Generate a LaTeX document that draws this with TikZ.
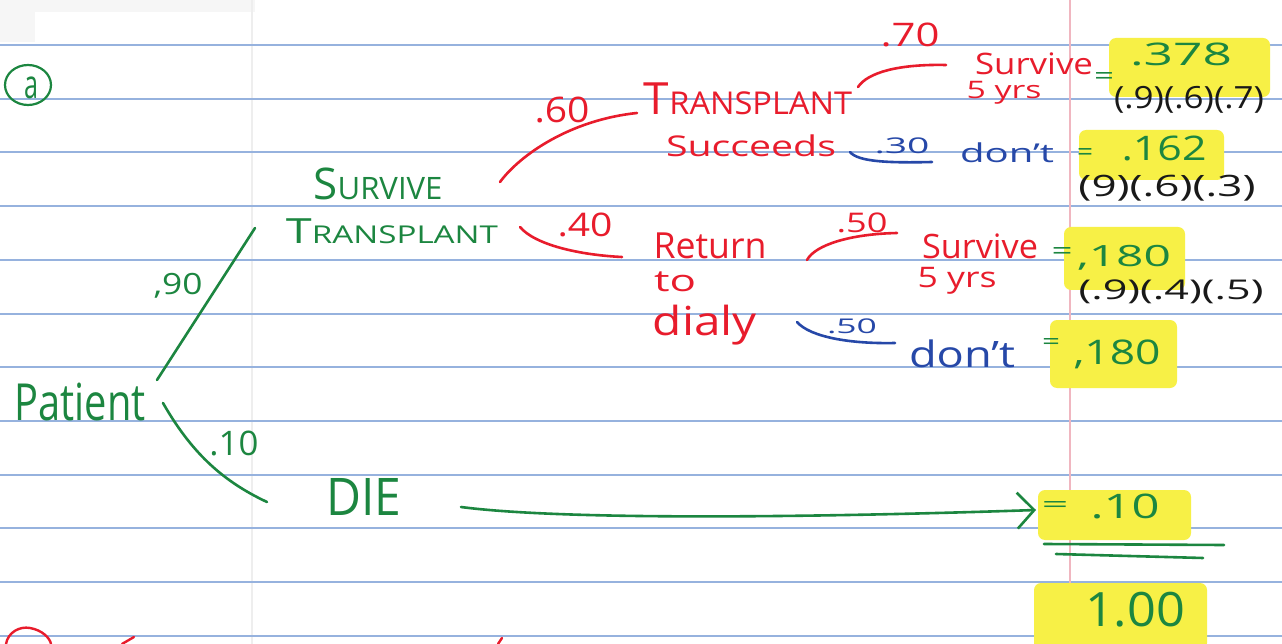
\documentclass[tikz,border=0pt]{standalone}
\usepackage{fontspec}
\setmainfont{Open Sans}
\usepackage{graphicx}
\usetikzlibrary{arrows.meta}
\definecolor{inkG}{RGB}{28,134,64}
\definecolor{inkR}{RGB}{232,28,44}
\definecolor{inkB}{RGB}{38,72,168}
\definecolor{inkK}{RGB}{25,25,25}
\definecolor{ruleC}{RGB}{150,178,222}
\definecolor{hlC}{RGB}{247,240,70}
\definecolor{marginC}{RGB}{240,182,192}
\definecolor{faintC}{RGB}{238,238,238}
\definecolor{paperG}{RGB}{246,246,246}
\newcommand\hw[3]{\resizebox*{#1pt}{#2pt}{#3}}
\newcommand\bigfirst[2]{{\fontsize{12}{12}\selectfont #1}{\fontsize{8.5}{9}\selectfont #2}}
\tikzset{
  txt/.style={inner sep=0pt, outer sep=2pt},
  gtxt/.style={txt, text=inkG},
  rtxt/.style={txt, text=inkR},
  btxt/.style={txt, text=inkB},
  ktxt/.style={txt, text=inkK},
  pen/.style={line width=2.6pt, line cap=round, line join=round},
  gpen/.style={pen, draw=inkG},
  rpen/.style={pen, draw=inkR},
  bpen/.style={pen, draw=inkB},
  rulestroke/.style={draw=ruleC, line width=2pt},
  hl/.style={fill=hlC, rounded corners=7pt},
}
\begin{document}
\begin{tikzpicture}[x=1pt,y=-1pt]
\useasboundingbox (0,0) rectangle (1282,644);
\fill[white] (0,0) rectangle (1282,644);
\fill[paperG] (0,0) rectangle (255,12);
\fill[paperG] (0,0) rectangle (35,42);
% paper
\draw[faintC, line width=1.2pt] (252,0) -- (252,644);
\foreach \k in {0,...,11} {
  \draw[rulestroke] (0,{45+53.7*\k}) -- (1282,{45+53.7*\k});
}
\draw[marginC, line width=1.3pt] (1070,0) -- (1070,644);
% highlights
\fill[hl] (1109,38) rectangle (1270,97);
\fill[hl] (1079,130) rectangle (1224,180);
\fill[hl] (1064,227) rectangle (1185,290);
\fill[hl] (1050,320) rectangle (1177,388);
\fill[hl] (1038,490) rectangle (1191,540);
\fill[hl] (1034,583) rectangle (1207,650);

% label (a)
\draw[inkG, line width=2.2pt] (28,85) ellipse [x radius=23pt, y radius=20pt];
\node[gtxt] (qa) at (31,88) {\hw{14}{22}{a}};

% green level
\node[gtxt] (patient) at (80,402) {\hw{131}{38}{Patient}};
\node[gtxt] (survive) at (378,184) {\hw{129}{32}{\bigfirst{S}{URVIVE}}};
\node[gtxt] (transplant) at (392,231) {\hw{212}{25}{\bigfirst{T}{RANSPLANT}}};
\node[gtxt] (die) at (364,497) {\hw{75}{37}{DIE}};
\node[gtxt] (l90) at (178,286) {\hw{49}{25}{,90}};
\node[gtxt] (l10) at (234,443) {\hw{49}{25}{.10}};

% red level
\node[rtxt] (l60) at (562,110) {\hw{55}{26}{.60}};
\node[rtxt] (l40) at (585,225) {\hw{55}{24}{.40}};
\node[rtxt] (transR) at (748,99) {\hw{208}{32}{\bigfirst{T}{RANSPLANT}}};
\node[rtxt] (succ) at (751,146) {\hw{170}{22}{Succeeds}};
\node[rtxt] (l70) at (910,35) {\hw{59}{24}{.70}};
\node[rtxt] (surv1) at (1034,64) {\hw{118}{22}{Survive}};
\node[rtxt] (yrs1) at (1004,93) {\hw{75}{23}{5 yrs}};
\node[rtxt] (ret) at (710,246) {\hw{113}{26}{Return}};
\node[rtxt] (to) at (675,282) {\hw{42}{20}{to}};
\node[rtxt] (dialy) at (705,325) {\hw{104}{40}{dialy}};
\node[rtxt] (l50r) at (862,223) {\hw{51}{20}{.50}};
\node[rtxt] (surv2) at (980,246) {\hw{116}{25}{Survive}};
\node[rtxt] (yrs2) at (957,281) {\hw{79}{27}{5 yrs}};

% blue
\node[btxt] (l30) at (902,146) {\hw{55}{16}{.30}};
\node[btxt] (dont1) at (1007,153) {\hw{94}{20}{don't}};
\node[btxt] (l50b) at (852,326) {\hw{50}{15}{.50}};
\node[btxt] (dont2) at (962,354) {\hw{106}{28}{don't}};

% results
\node[gtxt] (eq1) at (1104,79) {\hw{20}{12}{=}};
\node[gtxt] (v378) at (1181,54) {\hw{102}{23}{.378}};
\node[ktxt] (calc1) at (1189,100) {\hw{150}{27}{(.9)(.6)(.7)}};
\node[gtxt] (eq2) at (1085,155) {\hw{16}{12}{=}};
\node[gtxt] (v162) at (1164,148) {\hw{85}{25}{.162}};
\node[ktxt] (calc2) at (1167,188) {\hw{177}{26}{(9)(.6)(.3)}};
\node[gtxt] (eq3) at (1062,254) {\hw{21}{12}{=}};
\node[gtxt] (v180a) at (1124,258) {\hw{94}{25}{,180}};
\node[ktxt] (calc3) at (1171,292) {\hw{185}{24}{(.9)(.4)(.5)}};
\node[gtxt] (eq4) at (1051,344) {\hw{18}{11}{=}};
\node[gtxt] (v180b) at (1117,354) {\hw{87}{29}{,180}};
\node[gtxt] (eq5) at (1055,507) {\hw{27}{11}{=}};
\node[gtxt] (v10) at (1125,506) {\hw{69}{25}{.10}};
\node[gtxt] (v100) at (1135,610) {\hw{100}{35}{1.00}};

% connectors
\coordinate (p90a) at (157,380); \coordinate (p90b) at (255,228);
\draw[gpen] (p90a) -- (p90b);
\coordinate (p10a) at (163,403); \coordinate (p10b) at (267,502);
\draw[gpen] (p10a) .. controls (190,450) and (220,480) .. (p10b);
\coordinate (s60a) at (500,182); \coordinate (s60b) at (637,113);
\draw[rpen] (s60a) .. controls (520,155) and (570,120) .. (s60b);
\coordinate (s40a) at (520,227); \coordinate (s40b) at (622,257);
\draw[rpen] (s40a) .. controls (535,245) and (580,255) .. (s40b);
\coordinate (t70a) at (858,87); \coordinate (t70b) at (946,65);
\draw[rpen] (t70a) .. controls (868,72) and (900,64) .. (t70b);
\coordinate (t30a) at (850,152); \coordinate (t30b) at (932,162);
\draw[bpen] (t30a) .. controls (858,162) and (890,163) .. (t30b);
\coordinate (r50a) at (807,260); \coordinate (r50b) at (897,233);
\draw[rpen] (r50a) .. controls (815,245) and (850,234) .. (r50b);
\coordinate (r50c) at (797,322); \coordinate (r50d) at (895,343);
\draw[bpen] (r50c) .. controls (810,337) and (850,344) .. (r50d);
\coordinate (dieA) at (461,507); \coordinate (dieB) at (1036,510);
\draw[gpen, -{Straight Barb[length=17pt,width=36pt]}] (dieA) .. controls (560,520) and (800,518) .. (dieB);
\coordinate (u1a) at (1044,544); \coordinate (u1b) at (1224,545);
\draw[gpen] (u1a) -- (u1b);
\coordinate (u2a) at (1056,554); \coordinate (u2b) at (1203,558);
\draw[gpen] (u2a) -- (u2b);

% partial marks of the next problem
\draw[inkR, line width=2.4pt] (6,644) .. controls (8,632) and (20,626) .. (30,628) .. controls (42,630) and (50,638) .. (51,644);
\draw[inkR, line width=2.4pt, line cap=round] (122,644) -- (134,637);
\draw[inkR, line width=2.4pt, line cap=round] (498,644) -- (502,638);
\end{tikzpicture}
\end{document}
